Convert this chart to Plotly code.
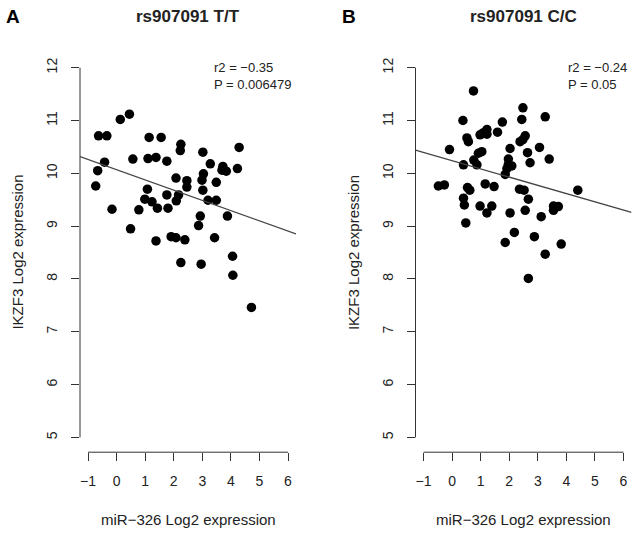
import plotly.graph_objects as go

# ---------------- data ----------------
tt_mir326 = [0.13, 0.45, -0.63, -0.34, 1.14, 1.56, 2.25, 2.23, 3.02, 4.29,
             -0.42, 0.57, 1.10, 1.38, 1.76, -0.66, -0.73, 2.08, 3.28, 3.72,
             3.69, 3.84, 4.23, 3.04, 2.99, 2.46, 2.46, 3.49, 1.08, 3.02,
             1.76, 2.17, 0.99, 1.24, 2.09, 3.20, 3.49, -0.16, 0.78, 1.43,
             1.80, 2.93, 3.88, 0.49, 2.87, 1.38, 1.91, 2.08, 2.39, 3.43,
             2.25, 2.96, 4.06, 4.07, 4.72]
tt_ikzf3 = [11.02, 11.12, 10.71, 10.71, 10.68, 10.68, 10.55, 10.43, 10.40, 10.49,
            10.21, 10.27, 10.28, 10.30, 10.23, 10.05, 9.76, 9.91, 10.18, 10.13,
            10.06, 10.04, 10.09, 9.99, 9.87, 9.86, 9.74, 9.83, 9.70, 9.68,
            9.59, 9.59, 9.51, 9.46, 9.48, 9.49, 9.49, 9.32, 9.31, 9.34,
            9.34, 9.19, 9.19, 8.95, 9.01, 8.72, 8.80, 8.78, 8.74, 8.78,
            8.31, 8.28, 8.43, 8.07, 7.46]

cc_mir326 = [0.75, 0.38, 0.52, 0.57, 0.98, 1.10, 1.22, 1.22, 1.59, -0.09,
             0.92, 1.04, 0.76, 0.87, 0.40, -0.48, -0.27, 0.54, 0.62, 1.16,
             0.40, 0.43, 2.48, 2.44, 3.26, 1.76, 2.56, 2.48, 2.38, 3.06,
             2.03, 2.64, 1.97, 2.73, 3.40, 1.97, 2.09, 1.92, 1.86, 1.47,
             2.36, 2.52, 2.67, 4.40, 0.98, 1.39, 0.48, 1.22, 2.03, 2.56,
             3.12, 3.55, 3.72, 3.55, 2.18, 1.86, 2.88, 3.26, 3.82, 2.67]
cc_ikzf3 = [11.56, 11.00, 10.67, 10.60, 10.73, 10.77, 10.83, 10.74, 10.78, 10.45,
            10.38, 10.41, 10.25, 10.16, 10.16, 9.76, 9.78, 9.73, 9.68, 9.80,
            9.53, 9.40, 11.24, 11.02, 11.07, 10.97, 10.71, 10.64, 10.60, 10.49,
            10.47, 10.39, 10.27, 10.20, 10.27, 10.17, 10.14, 10.09, 9.98, 9.75,
            9.70, 9.68, 9.51, 9.68, 9.38, 9.38, 9.06, 9.25, 9.25, 9.30,
            9.18, 9.38, 9.37, 9.30, 8.88, 8.69, 8.80, 8.47, 8.66, 8.01]

# regression lines (intercept, slope)
fit_tt = (10.07, -0.194)
fit_cc = (10.24, -0.156)

titles = ["rs907091 T/T", "rs907091 C/C"]
panel_letters = ["A", "B"]
stats = [["r2 = \u22120.35", "P = 0.006479"], ["r2 = \u22120.24", "P = 0.05"]]
x_ticks = [-1, 0, 1, 2, 3, 4, 5, 6]
y_ticks = [5, 6, 7, 8, 9, 10, 11, 12]
x_title = "miR\u2212326 Log2 expression"
y_title = "IKZF3 Log2 expression"

# ---------------- layout geometry ----------------
W, H = 640, 535
XR = [-1.28, 6.28]
YR = [4.72, 12.28]
panel_px = [(80, 296), (415.5, 631.5)]
top_px, bot_px = 52.9, 452.2
FONT = "Liberation Sans Narrow, Liberation Sans, Arial, sans-serif"
INK = "#222222"

fig = go.Figure()
datasets = [(tt_mir326, tt_ikzf3, fit_tt), (cc_mir326, cc_ikzf3, fit_cc)]
for i, (xs, ys, fit) in enumerate(datasets):
    xa = "x" if i == 0 else "x2"
    ya = "y" if i == 0 else "y2"
    fig.add_trace(go.Scatter(x=xs, y=ys, mode="markers", xaxis=xa, yaxis=ya,
                             marker=dict(size=9.5, color="black"),
                             showlegend=False, hoverinfo="skip"))
    b0, b1 = fit
    fig.add_trace(go.Scatter(x=XR, y=[b0 + b1 * XR[0], b0 + b1 * XR[1]],
                             mode="lines", xaxis=xa, yaxis=ya,
                             line=dict(color="#444444", width=1.3),
                             showlegend=False, hoverinfo="skip"))

ydom = [1 - bot_px / H, 1 - top_px / H]
axis_common = dict(showgrid=False, zeroline=False, showline=False,
                   ticks="outside", ticklen=8, tickwidth=1, tickcolor="#333333",
                   tickfont=dict(size=14, color=INK, family=FONT))
layout = dict(width=W, height=H, margin=dict(l=0, r=0, t=0, b=0),
              paper_bgcolor="white", plot_bgcolor="white",
              font=dict(family=FONT, color=INK))
for i, (l, r) in enumerate(panel_px):
    sx = "" if i == 0 else "2"
    layout["xaxis" + sx] = dict(axis_common, domain=[l / W, r / W], range=XR,
                                tickmode="array", tickvals=x_ticks,
                                anchor="y" + sx, ticklabelstandoff=8)
    layout["yaxis" + sx] = dict(axis_common, domain=ydom, range=YR,
                                tickmode="array", tickvals=y_ticks,
                                anchor="x" + sx, tickangle=-90,
                                ticklabelstandoff=8)
fig.update_layout(**layout)

shapes = []
annotations = []


def add_text(text, px, py, size, color=INK, **kw):
    d = dict(text=text, x=px / W, y=1 - py / H, xref="paper", yref="paper",
             showarrow=False, xanchor="center", yanchor="middle",
             font=dict(size=size, color=color, family=FONT))
    d.update(kw)
    annotations.append(d)


for i, (l, r) in enumerate(panel_px):
    sx = "" if i == 0 else "2"
    xa, ya = "x" + sx, "y" + sx
    # R-style axis lines spanning first to last tick
    shapes.append(dict(type="line", xref=xa, yref=ya + " domain",
                       x0=x_ticks[0], x1=x_ticks[-1], y0=0, y1=0,
                       line=dict(color="#333333", width=1)))
    shapes.append(dict(type="line", xref=xa + " domain", yref=ya,
                       x0=0, x1=0, y0=y_ticks[0], y1=y_ticks[-1],
                       line=dict(color="#333333", width=1)))
    cx = (l + r) / 2
    off = 0 if i == 0 else 335.5
    add_text("<b>%s</b>" % titles[i], cx, 16, 17)
    add_text("<b>%s</b>" % panel_letters[i], 13 + off, 16, 19, color="black")
    add_text("<br>".join(stats[i]), r - 3, 76, 13, xanchor="right", align="left")
    add_text(x_title, cx, 519, 15)
    add_text(y_title, 18 + off, (top_px + bot_px) / 2, 15, textangle=-90)
fig.update_layout(shapes=shapes, annotations=annotations)

fig.write_html("out.html",
               config={"displayModeBar": False, "staticPlot": True},
               post_script="document.body.style.margin='0';"
                           "document.body.style.overflow='hidden';")
